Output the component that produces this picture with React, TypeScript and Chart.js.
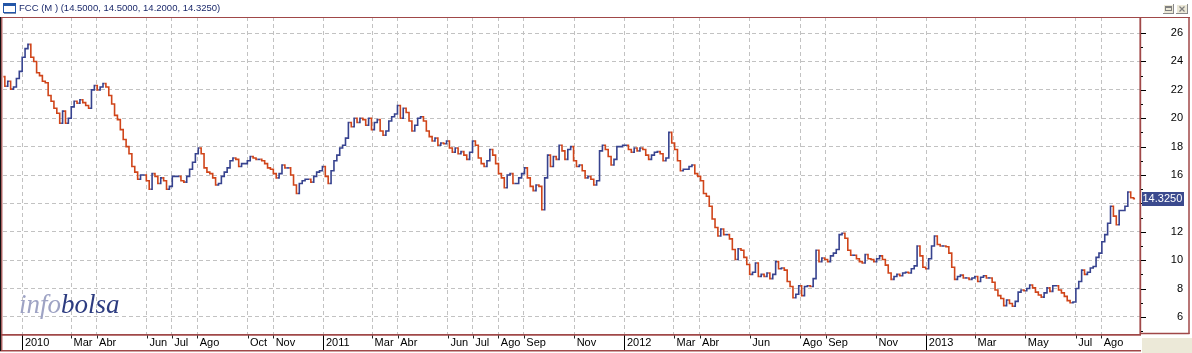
import React, { useEffect, useRef } from 'react';
import { Chart, registerables } from 'chart.js';

Chart.register(...registerables);

// ---------- data ----------
const TITLE = 'FCC (M ) (14.5000, 14.5000, 14.2000, 14.3250)';
const LAST_VALUE = 14.325;
const LAST_LABEL = '14.3250';
const SERIES_START = '2009-12-09';
const STEP_DAYS = 3.5;

const closes: number[] = [
  22.93, 22.25, 22.6, 22.05, 22.2, 22.8, 23.3, 24.3, 24.9, 25.2,
  24.3, 24.0, 23.2, 23.0, 22.6, 22.5, 21.6, 21.2, 20.7, 20.35,
  19.65, 20.5, 19.65, 20.0, 20.8, 21.2, 21.05, 21.3, 21.1, 20.9,
  20.7, 22.0, 22.3, 22.0, 22.2, 22.45, 22.2, 21.6, 21.0, 20.2,
  19.9, 19.2, 18.5, 18.0, 17.5, 16.6, 16.2, 15.7, 16.0, 16.0,
  15.6, 15.0, 16.1, 15.9, 15.4, 15.8, 15.6, 15.0, 15.2, 15.9,
  15.9, 15.9, 15.6, 15.5, 15.9, 16.4, 16.9, 17.5, 17.9, 17.5,
  16.5, 16.2, 16.1, 15.8, 15.3, 15.4, 15.9, 16.2, 16.5, 17.0,
  17.2, 17.1, 16.6, 16.8, 16.8, 17.0, 17.3, 17.2, 17.1, 17.1,
  17.0, 16.8, 16.5, 16.4, 16.1, 15.8, 16.1, 16.7, 16.5, 16.5,
  16.0, 15.3, 14.7, 15.4, 15.6, 15.7, 15.7, 15.5, 15.9, 16.2,
  16.3, 16.6, 15.9, 15.4, 16.3, 17.0, 17.4, 17.9, 18.1, 18.6,
  19.7, 19.4, 20.0, 19.7, 20.0, 19.9, 19.5, 20.0, 19.2, 19.7,
  19.9,
  19.1, 18.8, 19.1, 19.8, 20.1, 20.3, 20.9, 20.0, 20.7, 20.4,
  19.8, 19.1, 19.5, 20.0, 20.1, 19.8, 19.1, 18.7, 18.4, 18.6,
  18.1, 18.25, 18.2, 18.4, 17.9, 17.6, 17.9, 17.5, 17.65, 17.4,
  17.1, 17.6, 18.4, 18.1, 17.2, 16.8, 16.6, 17.0, 17.8, 17.4,
  16.8, 16.1, 15.8, 15.1, 16.0, 16.1, 15.4, 15.4, 15.8, 16.1,
  16.5, 15.8, 15.2, 14.9, 15.3, 15.2, 13.55, 15.8, 17.4, 16.6,
  17.3, 17.1, 18.1, 17.7, 17.1, 17.8, 18.0, 17.0, 16.6, 16.7,
  16.3, 15.8, 15.9, 15.7, 15.3, 15.6, 17.7, 18.1, 17.8, 17.3,
  16.7, 17.1, 18.0, 18.0, 18.1, 18.1, 17.8, 17.6, 17.9, 17.7,
  17.9, 17.8, 17.4, 17.1, 17.4, 17.6, 17.65, 17.5, 17.0, 17.2,
  19.0, 18.25, 17.8, 17.0, 16.3, 16.4, 16.4, 16.6, 16.7, 16.1,
  15.9, 15.6, 14.7, 14.5, 13.8, 12.9, 12.3, 11.7, 12.2, 11.8,
  11.8, 11.5, 10.75, 10.05, 10.8, 10.7, 10.2, 9.7, 9.0, 9.15,
  9.8, 8.85,
  9.0, 8.85, 9.1, 8.7, 9.0, 9.9, 9.4, 9.45, 9.3, 8.5,
  8.15, 7.35, 7.6, 8.2, 7.5, 8.15, 8.2, 8.15, 8.7, 10.7,
  9.9, 10.15, 10.05, 9.9, 10.3, 10.5, 10.75, 11.8, 11.9, 11.55,
  10.7, 10.35, 10.35, 10.1, 9.9, 9.8, 10.4, 10.1, 10.05, 9.9,
  10.1, 10.3, 10.05, 9.65, 9.1, 8.65, 8.85, 9.0, 8.9, 9.1,
  9.15, 9.1, 9.4, 9.6, 11.0, 10.3, 9.5, 9.4, 10.1, 11.0,
  11.7, 11.1, 11.0, 11.0, 10.95, 10.5, 9.5, 8.65, 8.85, 8.95,
  8.75, 8.75, 8.65, 8.75, 8.85, 8.5, 8.8, 8.9, 8.75, 8.75,
  8.45, 7.9, 7.5, 7.3, 6.8, 7.2, 6.95, 6.75, 7.1, 7.75,
  7.9, 7.85, 8.0, 8.25, 8.05, 7.75, 7.55, 7.4, 7.7, 8.05,
  7.8, 8.2, 8.2, 7.9, 7.7, 7.45, 7.15, 7.0, 7.05, 8.0,
  8.5, 9.3, 9.0, 9.15, 9.45, 9.55, 10.2, 10.5, 11.3, 11.8,
  12.6, 13.8, 13.1, 12.5, 13.5, 13.5, 13.8, 14.8, 14.4, 14.33,
];

const tickDates = [
  '2010-01-01', '2010-03-01', '2010-04-01', '2010-06-01', '2010-07-01', '2010-08-01', '2010-10-01', '2010-11-01',
  '2011-01-01', '2011-03-01', '2011-04-01', '2011-06-01', '2011-07-01', '2011-08-01', '2011-09-01', '2011-11-01',
  '2012-01-01', '2012-03-01', '2012-04-01', '2012-06-01', '2012-08-01', '2012-09-01', '2012-11-01',
  '2013-01-01', '2013-03-01', '2013-05-01', '2013-07-01', '2013-08-01',
];
const tickLabels = [
  '2010', 'Mar', 'Abr', 'Jun', 'Jul', 'Ago', 'Oct', 'Nov',
  '2011', 'Mar', 'Abr', 'Jun', 'Jul', 'Ago', 'Sep', 'Nov',
  '2012', 'Mar', 'Abr', 'Jun', 'Ago', 'Sep', 'Nov',
  '2013', 'Mar', 'May', 'Jul', 'Ago',
];
const yTicks = [6, 8, 10, 12, 14, 16, 18, 20, 22, 24, 26];
const yMinorTicks = [5, 7, 9, 11, 13, 15, 17, 19, 21, 23, 25];

// ---------- styles ----------
const UP = '#37438f';
const DOWN = '#d0451a';
const FRAME = '#a04848';
const GRID = '#c2c2c2';
const FONT = '"Liberation Sans", Arial, sans-serif';

const BASE = Date.UTC(2010, 0, 1);
const dayOf = (s: string) => (Date.parse(s) - BASE) / 86400000;

function hline(c: CanvasRenderingContext2D, x1: number, x2: number, y: number) {
  c.beginPath(); c.moveTo(x1, y); c.lineTo(x2, y); c.stroke();
}
function vline(c: CanvasRenderingContext2D, x: number, y1: number, y2: number) {
  c.beginPath(); c.moveTo(x, y1); c.lineTo(x, y2); c.stroke();
}

export default function App() {
  const ref = useRef<HTMLCanvasElement>(null);

  useEffect(() => {
    document.body.style.margin = '0';
    const canvas = ref.current;
    if (!canvas) return;

    const startDay = dayOf(SERIES_START);
    const points = closes.map((v, i) => ({ x: startDay + i * STEP_DAYS, y: v }));
    const tickDays = tickDates.map(dayOf);
    const labelMap = new Map<number, string>(tickDays.map((d, i) => [d, tickLabels[i]]));
    const yearDays = new Set<number>(tickDays.filter((_, i) => /^\d{4}$/.test(tickLabels[i])));

    const backPlugin = {
      id: 'watermark',
      beforeDatasetsDraw(chart: any) {
        const c = chart.ctx as CanvasRenderingContext2D;
        c.save();
        c.font = 'italic 27px "Liberation Serif", "Times New Roman", serif';
        c.textBaseline = 'alphabetic';
        c.textAlign = 'left';
        c.fillStyle = '#9ea3c4';
        c.fillText('info', 19, 313);
        const w = c.measureText('info').width;
        c.fillStyle = '#2d3c80';
        c.fillText('bolsa', 19 + w, 313);
        c.restore();
      },
    };

    const chromePlugin = {
      id: 'chrome',
      afterDraw(chart: any) {
        const c = chart.ctx as CanvasRenderingContext2D;
        const a = chart.chartArea;
        const ys = chart.scales.y;
        const xs = chart.scales.x;
        const W = chart.width;
        const H = chart.height;
        c.save();

        // beige corner bottom right
        c.fillStyle = '#ece9d8';
        c.fillRect(a.right + 2, 338, W - a.right - 2, H - 338);

        // frame lines
        c.strokeStyle = FRAME;
        c.lineWidth = 1.2;
        hline(c, 0, 1190, a.top + 0.5);
        c.lineWidth = 1.8;
        vline(c, a.right + 0.3, a.top, a.bottom);
        c.lineWidth = 1.5;
        vline(c, 1189, a.top, 334);
        hline(c, a.right, 1189.5, 333.5);
        c.lineWidth = 1.7;
        hline(c, 0, a.right + 1, a.bottom + 0.8);
        c.lineWidth = 1.5;
        hline(c, 0, a.right + 1, 350.7);

        // left edge
        c.fillStyle = '#111';
        c.fillRect(0, a.top, 1.2, 351 - a.top);
        c.fillStyle = FRAME;
        c.fillRect(1.2, a.top, 1.2, 351 - a.top);

        // right axis ticks
        c.strokeStyle = '#000';
        c.lineWidth = 1;
        yTicks.forEach((v) => {
          const y = Math.round(ys.getPixelForValue(v)) + 0.5;
          hline(c, a.right + 1, a.right + 6, y);
        });
        yMinorTicks.forEach((v) => {
          const y = Math.round(ys.getPixelForValue(v)) + 0.5;
          hline(c, a.right + 1, a.right + 3, y);
        });

        // x axis ticks
        tickDays.forEach((d) => {
          const x = Math.round(xs.getPixelForValue(d)) + 0.5;
          if (yearDays.has(d)) {
            c.strokeStyle = '#000';
            vline(c, x, a.bottom + 1.5, 350);
          } else {
            c.strokeStyle = '#222';
            vline(c, x, a.bottom + 1.5, a.bottom + 4.5);
          }
        });

        // last value label
        const ly = ys.getPixelForValue(LAST_VALUE);
        c.fillStyle = '#3b4a8e';
        c.fillRect(a.right + 2, Math.round(ly - 7), 42, 14);
        c.fillStyle = '#fff';
        c.font = `11px ${FONT}`;
        c.textBaseline = 'middle';
        c.textAlign = 'left';
        c.fillText(LAST_LABEL, a.right + 2.5, ly + 0.5);

        // title bar: icon
        c.fillStyle = '#2356a8';
        c.fillRect(3, 3, 13, 3);
        c.strokeStyle = '#2356a8';
        c.lineWidth = 1;
        c.strokeRect(3.5, 3.5, 12, 9);
        c.strokeStyle = '#7f8fb0';
        hline(c, 4, 16, 13.5);

        // title text
        c.fillStyle = '#1c2a6c';
        c.font = `9.5px ${FONT}`;
        c.textBaseline = 'alphabetic';
        c.fillText(TITLE, 19, 11);

        // window buttons
        const btn = (x: number, w: number) => {
          c.fillStyle = '#ece9d8';
          c.fillRect(x, 4, w, 10);
          c.strokeStyle = '#ffffff';
          hline(c, x, x + w, 4.5);
          vline(c, x + 0.5, 4, 14);
          c.strokeStyle = '#8a8a8a';
          hline(c, x, x + w, 13.5);
          vline(c, x + w - 0.5, 4, 14);
        };
        btn(1163, 11);
        btn(1176, 12);
        c.strokeStyle = '#808080';
        c.strokeRect(1165.5, 6.5, 6, 4);
        hline(c, 1165, 1172, 7.5);
        c.lineWidth = 1.2;
        c.beginPath();
        c.moveTo(1179.5, 6.5); c.lineTo(1184.5, 11.5);
        c.moveTo(1184.5, 6.5); c.lineTo(1179.5, 11.5);
        c.stroke();

        c.restore();
      },
    };

    const chart = new Chart(canvas, {
      type: 'line',
      data: {
        datasets: [
          {
            data: points,
            stepped: 'middle',
            borderWidth: 1.6,
            borderColor: UP,
            pointRadius: 0,
            fill: false,
            segment: {
              borderColor: (ctx: any) => (ctx.p1.parsed.y >= ctx.p0.parsed.y ? UP : DOWN),
            },
          },
        ],
      },
      options: {
        animation: false,
        responsive: false,
        events: [],
        layout: { autoPadding: false, padding: { left: 3, top: 17, right: 9, bottom: 0 } },
        plugins: { legend: { display: false }, tooltip: { enabled: false }, title: { display: false } },
        scales: {
          x: {
            type: 'linear',
            min: -23.5,
            max: 1355,
            afterBuildTicks: (s: any) => { s.ticks = tickDays.map((v) => ({ value: v })); },
            afterFit: (s: any) => { s.height = 19; s.paddingLeft = 0; s.paddingRight = 0; },
            grid: { color: GRID, lineWidth: 1, drawTicks: true, tickLength: 2, tickWidth: 0 },
            border: { display: false, dash: [4, 3] },
            ticks: {
              autoSkip: false,
              maxRotation: 0,
              minRotation: 0,
              align: 'start',
              labelOffset: 2.5,
              padding: 0,
              color: '#000',
              font: { family: FONT, size: 11 },
              callback: (v: any) => labelMap.get(Number(v)) ?? '',
            },
          },
          y: {
            position: 'right',
            min: 4.8,
            max: 27.13,
            afterBuildTicks: (s: any) => { s.ticks = yTicks.map((v) => ({ value: v })); },
            afterFit: (s: any) => { s.width = 43; s.paddingTop = 0; s.paddingBottom = 0; },
            grid: { color: GRID, lineWidth: 1, drawTicks: true, tickLength: 25, tickWidth: 0 },
            border: { display: false, dash: [4, 3] },
            ticks: {
              crossAlign: 'far',
              padding: 0,
              color: '#000',
              font: { family: FONT, size: 11 },
            },
          },
        },
      },
      plugins: [backPlugin, chromePlugin],
    } as any);

    return () => chart.destroy();
  }, []);

  return (
    <div style={{ width: 1192, height: 353, background: '#fff', position: 'relative' }}>
      <canvas ref={ref} width={1192} height={353} style={{ display: 'block', width: 1192, height: 353 }} />
    </div>
  );
}
